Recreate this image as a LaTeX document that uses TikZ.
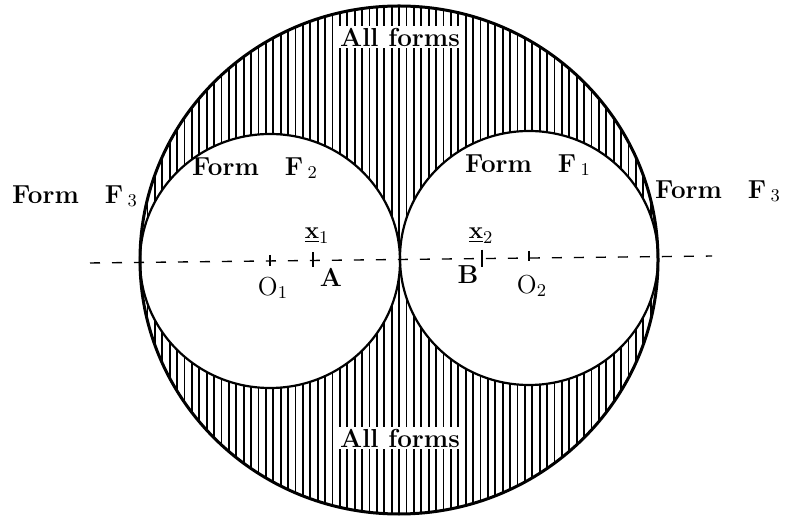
\documentclass[tikz,border=0pt]{standalone}
\begin{document}
\begin{tikzpicture}[x=0.5pt,y=-0.5pt,
  lbl/.style={font=\fontsize{13}{15}\selectfont\bfseries,inner sep=1pt},
  pt/.style={font=\fontsize{13}{15}\selectfont,inner sep=1pt}]
\useasboundingbox (0,0) rectangle (791,517);
\coordinate (C) at (399,260);
\coordinate (O1) at (270,261);
\coordinate (O2) at (529,258);
\begin{scope}[even odd rule]
\clip (C) ellipse [x radius=259,y radius=254]
  (O1) ellipse [x radius=130,y radius=127]
  (O2) ellipse [x radius=129,y radius=127];
\foreach \x in {140,147.4,...,662} \draw[line width=0.9pt] (\x,0) -- (\x,517);
\end{scope}
\draw[line width=1.5pt] (C) ellipse [x radius=259,y radius=254];
\draw[line width=1.1pt] (O1) ellipse [x radius=130,y radius=127];
\draw[line width=1.1pt] (O2) ellipse [x radius=129,y radius=127];
\coordinate (axL) at (90,263);
\coordinate (axR) at (712,256);
\draw[dash pattern=on 5pt off 6pt,line width=0.7pt] (axL) -- (axR);
\coordinate (A) at (313,260.5);
\coordinate (B) at (482,258.6);
\draw[line width=0.8pt] (O1) ++(0,-6) -- ++(0,11);
\draw[line width=0.8pt] (O2) ++(0,-7) -- ++(0,10);
\draw[line width=0.8pt] (A) ++(0,-8) -- ++(0,15);
\draw[line width=0.8pt] (B) ++(0,-9) -- ++(0,17);
\node[lbl,fill=white] (allT) at (400,37) {All forms};
\node[lbl,fill=white] (allB) at (400,438) {All forms};
\node[lbl] (f2) at (255,168) {Form\quad F\,$_2$};
\node[lbl] (f1) at (528,165) {Form\quad F\,$_1$};
\node[lbl] (f3L) at (75,196) {Form\quad F\,$_3$};
\node[lbl] (f3R) at (718,191) {Form\quad F\,$_3$};
\node[pt] (x1) at (317,236) {$\underline{\mathbf{x}}_1$};
\node[pt] (x2) at (481,236) {$\underline{\mathbf{x}}_2$};
\node[pt] (o1lbl) at (273,288) {O$_1$};
\node[pt] (o2lbl) at (532,286) {O$_2$};
\node[lbl] (albl) at (331,277) {A};
\node[lbl] (blbl) at (468,275) {B};
\end{tikzpicture}
\end{document}
